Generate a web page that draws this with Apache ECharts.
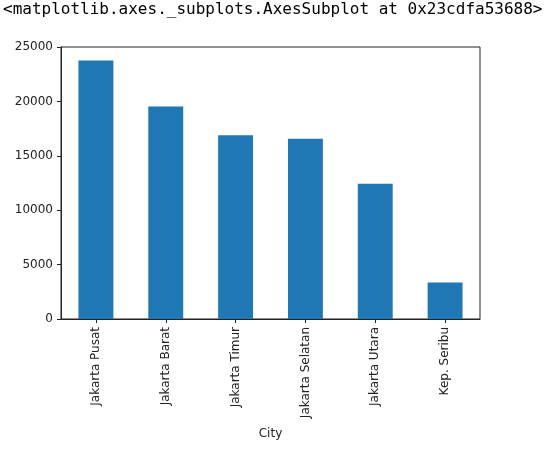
<!DOCTYPE html>
<html>
<head>
<meta charset="utf-8">
<script src="https://cdn.jsdelivr.net/npm/echarts@6/dist/echarts.min.js"></script>
<style>html,body{margin:0;padding:0;background:#fff;}#c{width:547px;height:459px;}</style>
</head>
<body>
<div id="c"></div>
<script>
const categories = ["Jakarta Pusat", "Jakarta Barat", "Jakarta Timur", "Jakarta Selatan", "Jakarta Utara", "Kep. Seribu"];
const values = [23770, 19540, 16880, 16570, 12440, 3360];
const yTicks = [0, 5000, 10000, 15000, 20000, 25000];
const headerText = "<matplotlib.axes._subplots.AxesSubplot at 0x23cdfa53688>";
const xName = "City";

const chart = echarts.init(document.getElementById('c'), null, {renderer: 'canvas'});
chart.setOption({
  animation: false,
  backgroundColor: '#fff',
  title: {
    text: headerText,
    left: 3, top: 2, padding: 0,
    textStyle: {fontFamily: 'DejaVu Sans Mono', fontSize: 16, fontWeight: 'normal', color: '#000'}
  },
  grid: {left: 61, right: 67, top: 47, bottom: 140, show: true, borderColor: '#222', borderWidth: 1, backgroundColor: 'transparent'},
  xAxis: {
    type: 'category',
    data: categories,
    name: xName,
    nameLocation: 'middle',
    nameGap: 109,
    nameTextStyle: {fontFamily: 'DejaVu Sans', fontSize: 12, color: '#222'},
    axisLine: {show: true, lineStyle: {color: '#222', width: 1}},
    axisTick: {show: true, alignWithLabel: true, length: 4, lineStyle: {color: '#222'}},
    axisLabel: {rotate: 90, margin: 8, fontFamily: 'DejaVu Sans', fontSize: 12, color: '#222'},
    splitLine: {show: false}
  },
  yAxis: {
    type: 'value',
    min: 0, max: yTicks[yTicks.length - 1], interval: yTicks[1] - yTicks[0],
    axisLine: {show: true, lineStyle: {color: '#222', width: 1}},
    axisTick: {show: true, length: 4, lineStyle: {color: '#222'}},
    axisLabel: {margin: 8, fontFamily: 'DejaVu Sans', fontSize: 12, color: '#222', formatter: function (v) { return String(v); }},
    splitLine: {show: false}
  },
  series: [{
    type: 'bar',
    data: values,
    barWidth: '50%',
    itemStyle: {color: '#1f77b4'}
  }]
});
</script>
</body>
</html>
